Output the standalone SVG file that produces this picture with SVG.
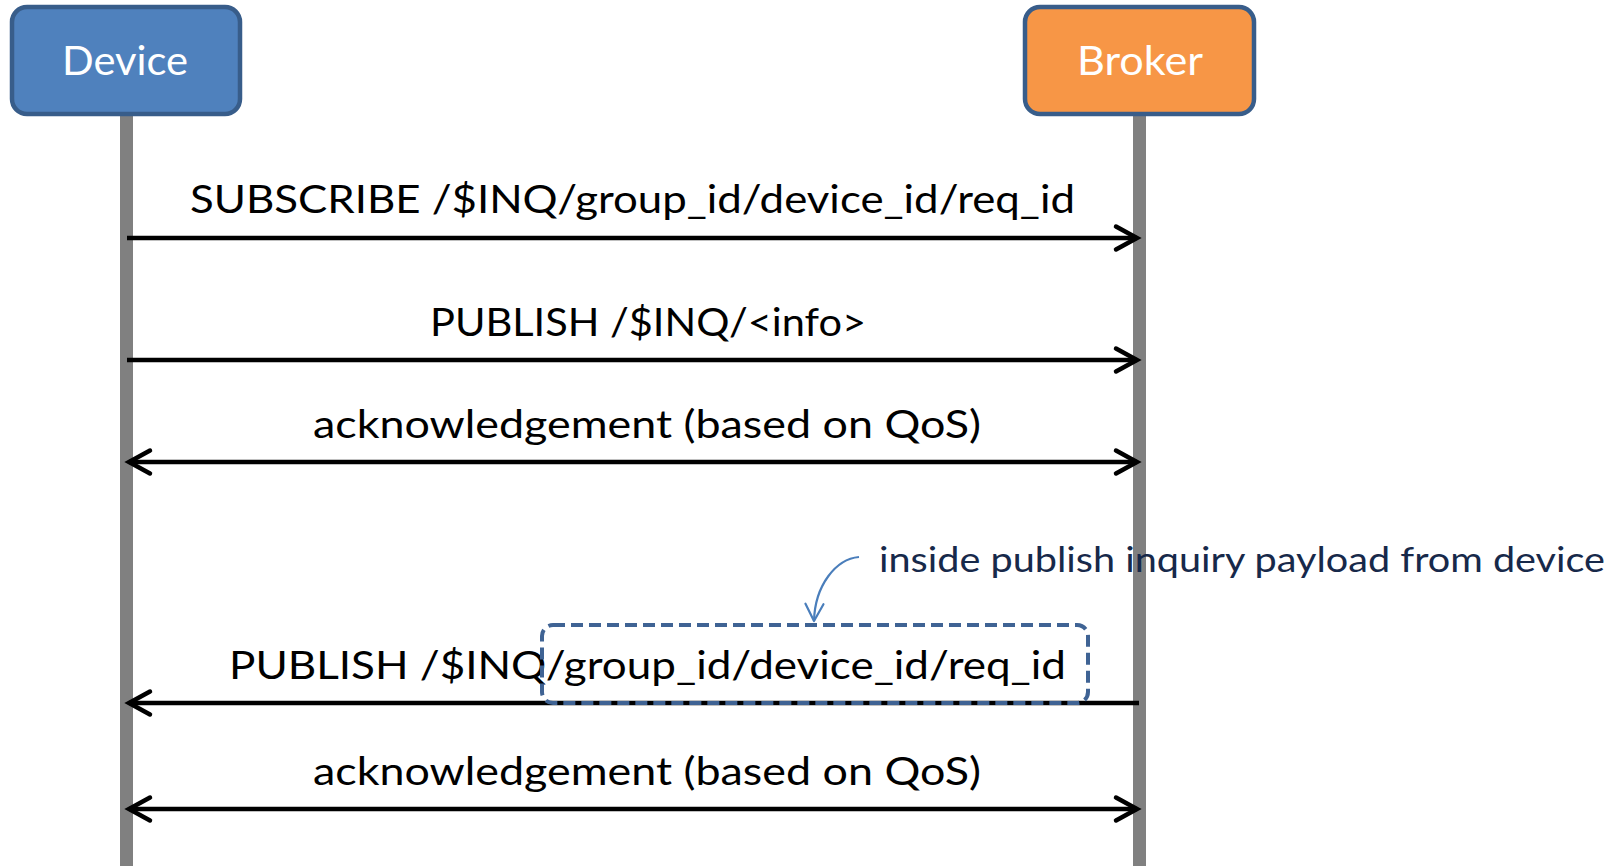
<svg xmlns="http://www.w3.org/2000/svg" width="1616" height="866" viewBox="0 0 1616 866">
  <style>
    .box { stroke: #385D8A; stroke-width: 4.5; }
    .boxlabel { font-family: Lato, "Liberation Sans", sans-serif; font-size: 40px; fill: #FFFFFF; }
    .life { stroke: #808080; stroke-width: 13; }
    .msg { stroke: #000000; stroke-width: 4.5; fill: none; }
    .label { font-family: Lato, "Liberation Sans", sans-serif; font-size: 39px; fill: #000000; }
    .note { font-family: Lato, "Liberation Sans", sans-serif; font-size: 34px; fill: #17294A; }
  </style>
  <defs>
    <marker id="arrow" markerUnits="userSpaceOnUse" viewBox="-28 -16 32 32" refX="0" refY="0" markerWidth="32" markerHeight="32" orient="auto-start-reverse" overflow="visible">
      <path d="M-21,-11.5 L0,0 L-21,11.5" fill="none" stroke="#000000" stroke-width="4.5" stroke-linecap="round" stroke-linejoin="miter"/>
    </marker>
    <marker id="bluearrow" markerUnits="userSpaceOnUse" viewBox="-20 -12 24 24" refX="0" refY="0" markerWidth="24" markerHeight="24" orient="auto" overflow="visible">
      <path d="M-17,-9 L0,0 L-17,9" fill="none" stroke="#4A7EBB" stroke-width="2.2" stroke-linecap="round" stroke-linejoin="round"/>
    </marker>
  </defs>
  <rect width="1616" height="866" fill="#FFFFFF"/>

  <g id="lifelines">
    <line class="life" x1="126.5" y1="114" x2="126.5" y2="866"/>
    <line class="life" x1="1139.5" y1="114" x2="1139.5" y2="866"/>
  </g>

  <g id="device">
    <rect class="box" x="12" y="7" width="228" height="107" rx="15" ry="15" fill="#4F81BD"/>
    <text class="boxlabel" x="62" y="75" textLength="126" lengthAdjust="spacingAndGlyphs">Device</text>
  </g>

  <g id="broker">
    <rect class="box" x="1025" y="7" width="229" height="107" rx="15" ry="15" fill="#F79646"/>
    <text class="boxlabel" x="1077" y="75" textLength="126" lengthAdjust="spacingAndGlyphs">Broker</text>
  </g>

  <g id="connectors">
    <line class="msg" x1="127" y1="238" x2="1137" y2="238" marker-end="url(#arrow)"/>
    <line class="msg" x1="127" y1="360" x2="1137" y2="360" marker-end="url(#arrow)"/>
    <line class="msg" x1="129" y1="462" x2="1137" y2="462" marker-start="url(#arrow)" marker-end="url(#arrow)"/>
    <line class="msg" x1="1139" y1="703" x2="129" y2="703" marker-end="url(#arrow)"/>
    <line class="msg" x1="129" y1="809" x2="1137" y2="809" marker-start="url(#arrow)" marker-end="url(#arrow)"/>
  </g>

  <g id="labels">
    <text class="label" x="190" y="213" textLength="885" lengthAdjust="spacingAndGlyphs">SUBSCRIBE /$INQ/group_id/device_id/req_id</text>
    <text class="label" x="430" y="336" textLength="436" lengthAdjust="spacingAndGlyphs">PUBLISH /$INQ/&lt;info&gt;</text>
    <text class="label" x="313" y="438" textLength="668" lengthAdjust="spacingAndGlyphs">acknowledgement (based on QoS)</text>
    <text class="label" x="229" y="679" textLength="837" lengthAdjust="spacingAndGlyphs">PUBLISH /$INQ/group_id/device_id/req_id</text>
    <text class="label" x="313" y="785" textLength="668" lengthAdjust="spacingAndGlyphs">acknowledgement (based on QoS)</text>
  </g>

  <g id="payload-highlight">
    <rect x="542" y="625" width="546" height="78" rx="11" ry="11" fill="none" stroke="#3F6394" stroke-width="4" stroke-dasharray="12 6"/>
  </g>

  <g id="annotation">
    <path d="M859,557 C836,559 815,585 814,621" fill="none" stroke="#4A7EBB" stroke-width="2.2" marker-end="url(#bluearrow)"/>
    <text class="note" x="879" y="572" textLength="726" lengthAdjust="spacingAndGlyphs">inside publish inquiry payload from device</text>
  </g>
</svg>
